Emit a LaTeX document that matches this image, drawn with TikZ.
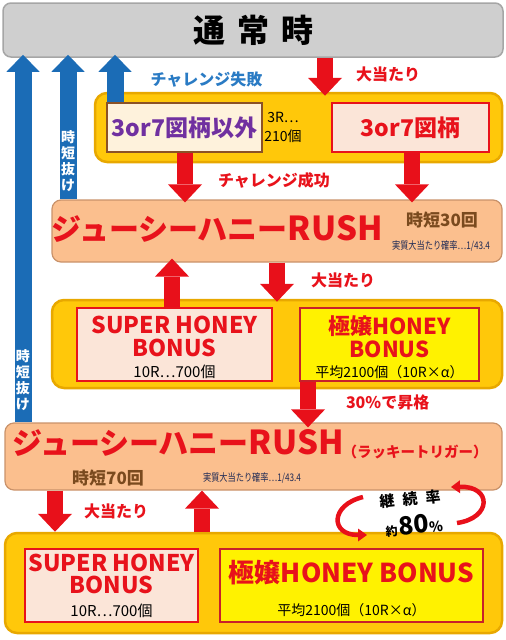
\documentclass[tikz,border=0pt]{standalone}
\usepackage{fontspec}
\newfontfamily\jp{Noto Sans CJK JP}
\usetikzlibrary{arrows.meta,positioning}
\definecolor{barfill}{HTML}{CFCFCF}
\definecolor{barline}{HTML}{A6A6A6}
\definecolor{goldfill}{HTML}{FFC80A}
\definecolor{goldline}{HTML}{E8A800}
\definecolor{rushfill}{HTML}{FBBF8E}
\definecolor{rushline}{HTML}{C9926A}
\definecolor{pinkfill}{HTML}{FBE5D8}
\definecolor{creamfill}{HTML}{FEF2DC}
\definecolor{brownline}{HTML}{8B5226}
\definecolor{lemonline}{HTML}{C8202A}
\definecolor{honeyred}{HTML}{E8121B}
\definecolor{arrowred}{HTML}{E8101A}
\definecolor{backblue}{HTML}{1B6CB6}
\definecolor{failblue}{HTML}{2A7BC4}
\definecolor{hazure}{HTML}{7030A0}
\definecolor{jitanbrown}{HTML}{7A4A1E}
\definecolor{probtext}{HTML}{1F2A55}

\begin{document}
\begin{tikzpicture}[x=1pt, y=-1pt, every node/.style={inner sep=0pt, font=\jp},
  bar/.style={draw=barline, fill=barfill, line width=1.5pt, rounded corners=8pt},
  gold/.style={draw=goldline, fill=goldfill, line width=2.5pt, rounded corners=12pt},
  rush/.style={draw=rushline, fill=rushfill, line width=1.2pt, rounded corners=9pt},
  pinkbox/.style={draw=honeyred, fill=pinkfill, line width=1.2pt},
  creambox/.style={draw=brownline, fill=creamfill, line width=1.4pt},
  lemonbox/.style={draw=lemonline, fill=yellow, line width=1.2pt},
  hit/.style={draw=arrowred, line width=16pt, -{Triangle[length=18pt, width=34pt, line width=0pt]}},
  back/.style={draw=backblue, line width=17pt, -{Triangle[length=17pt, width=33pt, line width=0pt]}},
  loop/.style={draw=arrowred, line width=4.5pt, -{Triangle[length=9pt, width=13pt, line width=0pt]}},
  lbl/.style={font=\jp\bfseries\fontsize{16}{16}\selectfont, text=honeyred},
  vlbl/.style={font=\jp\bfseries\fontsize{14}{16}\selectfont, text=white, align=center},
  title/.style={text=honeyred, align=center},
  plain/.style={font=\jp\fontsize{15}{18}\selectfont, text=black, align=center},
  small/.style={font=\jp\fontsize{14}{19}\selectfont, text=black, align=center},
  jitan/.style={font=\jp\bfseries\fontsize{17}{17}\selectfont, text=jitanbrown},
  prob/.style={font=\jp\fontsize{10.5}{10.5}\selectfont, text=probtext, xscale=0.78},
]
\useasboundingbox (0,0) rectangle (506,640);

\node[bar, minimum width=500pt, minimum height=54pt] (tsujo) at (253,30)
  {\fontsize{32}{32}\selectfont\bfseries 通\hspace{12pt}常\hspace{12pt}時};

\node[gold, minimum width=407pt, minimum height=69pt] (gold1) at (298.5,127.5) {};
\node[creambox, minimum width=155pt, minimum height=49pt, text=hazure] (miss) at (184.5,127.5)
  {\bfseries\fontsize{23}{23}\selectfont 3or7図柄以外};
\node[small] (chal) at (283,127.5) {3R…\\210個};
\node[pinkbox, minimum width=157pt, minimum height=49pt, text=honeyred] (hit37) at (410.5,127.5)
  {\bfseries\fontsize{23}{23}\selectfont 3or7図柄};

\node[rush, minimum width=450pt, minimum height=62pt] (rush1) at (277,231) {};
\node[title, font=\jp\bfseries] (rush1t) at (217,229)
  {\fontsize{30}{30}\selectfont ジューシーハニー\fontsize{33}{33}\selectfont RUSH};
\node[jitan] (jitan30) at (442,220) {時短30回};
\node[prob] (prob30) at (441,246) {実質大当たり確率…1/43.4};

\node[gold, minimum width=450pt, minimum height=88pt] (gold2) at (277,344) {};
\node[pinkbox, minimum width=195pt, minimum height=73pt] (super1) at (174.5,344.5) {};
\node[title, font=\jp\bfseries\fontsize{23}{23}\selectfont] (super1t) at ([yshift=8pt]super1.center) {SUPER HONEY\\BONUS};
\node[plain, above=3pt of super1.south] (super1s) {10R…700個};
\node[lemonbox, minimum width=179pt, minimum height=73pt] (gokujo1) at (389.5,344.5) {};
\node[title, font=\jp\bfseries\fontsize{22}{23}\selectfont] (gokujo1t) at ([yshift=8pt]gokujo1.center) {極嬢HONEY\\BONUS};
\node[small, above=3pt of gokujo1.south] (gokujo1s) {平均2100個（10R×α）};

\node[rush, minimum width=497pt, minimum height=67pt] (rush2) at (253.5,456.5) {};
\node[title, font=\jp\bfseries] (rush2t) at (178,443)
  {\fontsize{30}{30}\selectfont ジューシーハニー\fontsize{33}{33}\selectfont RUSH};
\node[title, font=\jp\bfseries\fontsize{14.5}{14.5}\selectfont] (lucky) at (415,452) {（ラッキートリガー）};
\node[jitan] (jitan70) at (108,478) {時短70回};
\node[prob] (prob70) at (252,478) {実質大当たり確率…1/43.4};

\node[gold, minimum width=497pt, minimum height=100pt] (gold3) at (253.5,583) {};
\node[pinkbox, minimum width=173pt, minimum height=73pt] (super2) at (111.5,585.5) {};
\node[title, font=\jp\bfseries\fontsize{23}{22}\selectfont] (super2t) at ([yshift=11.5pt]super2.center) {SUPER HONEY\\BONUS};
\node[plain, above=5pt of super2.south] (super2s) {10R…700個};
\node[lemonbox, minimum width=263pt, minimum height=73pt] (gokujo2) at (351.5,585.5) {};
\node[title, font=\jp\bfseries\fontsize{26}{26}\selectfont] (gokujo2t) at ([yshift=12.5pt]gokujo2.center) {極嬢HONEY BONUS};
\node[small, above=6pt of gokujo2.south] (gokujo2s) {平均2100個（10R×α）};

\node[font=\jp\bfseries\fontsize{15}{15}\selectfont, rotate=6] (keizoku) at (410,499) {継\hspace{8pt}続\hspace{8pt}率};
\node[font=\jp\bfseries, rotate=5] (rate) at (414,525)
  {\fontsize{12}{12}\selectfont 約\hspace{1pt}\fontsize{25}{25}\selectfont 80\fontsize{14}{14}\selectfont\%};

\path (325,0) coordinate (colA) (185,0) coordinate (colB) (412,0) coordinate (colC)
  (172,0) coordinate (colD) (277,0) coordinate (colE) (308,0) coordinate (colF)
  (55,0) coordinate (colG) (202,0) coordinate (colH)
  (23,0) coordinate (colI) (68,0) coordinate (colJ) (115,0) coordinate (colK);

\draw[hit, shorten >=-4pt] (tsujo.south -| colA) -- (gold1.north -| colA) node[lbl, midway, right=23pt] {大当たり};
\draw[hit, shorten >=-3pt] (miss.south -| colB) -- (rush1.north -| colB) node[lbl, pos=0.6, right=25pt] {チャレンジ成功};
\draw[hit, shorten >=-3pt] (hit37.south -| colC) -- (rush1.north -| colC);
\draw[hit, shorten >=-4pt] (super1.north -| colD) -- (rush1.south -| colD);
\draw[hit, shorten >=-3pt] (rush1.south -| colE) -- (gold2.north -| colE) node[lbl, midway, right=26pt] {大当たり};
\draw[hit, shorten >=-5pt] (gokujo1.south -| colF) -- (rush2.north -| colF) node[lbl, midway, right=30pt] {30\%で昇格};
\draw[hit] (rush2.south -| colG) -- (gold3.north -| colG) node[lbl, midway, right=21pt] {大当たり};
\draw[hit] (gold3.north -| colH) -- (rush2.south -| colH);

\draw[back, shorten >=-3pt] (rush2.north -| colI) -- (tsujo.south -| colI) node[vlbl, pos=0.115] {時\\短\\抜\\け};
\draw[back, shorten >=-3pt] (rush1.north -| colJ) -- (tsujo.south -| colJ) node[vlbl, pos=0.27] {時\\短\\抜\\け};
\draw[back, shorten >=-3pt] (miss.north -| colK) -- (tsujo.south -| colK)
  node[lbl, text=failblue, midway, right=27pt] {チャレンジ失敗};

\draw[loop] (363,497) .. controls (330,505) and (330,535) .. (367,535);
\draw[loop] (457,523) .. controls (492,518) and (492,486) .. (451,487);
\end{tikzpicture}
\end{document}
